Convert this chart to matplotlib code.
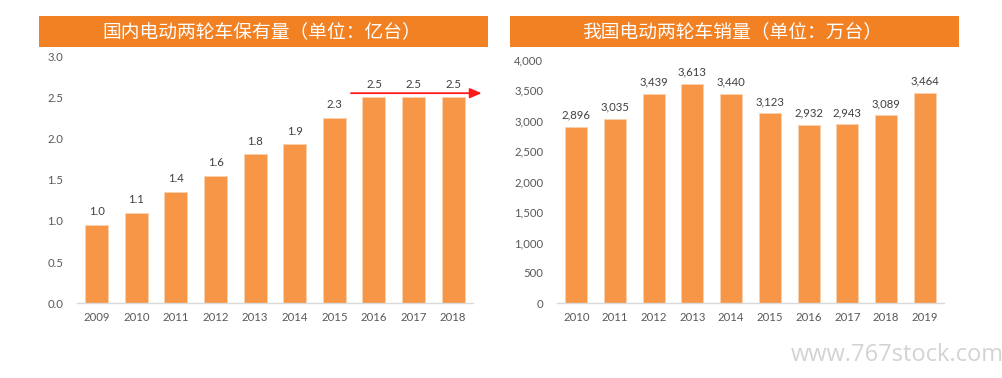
import matplotlib
matplotlib.use("Agg")
import matplotlib.pyplot as plt
from matplotlib.patches import Rectangle

plt.rcParams['font.family'] = ['Lato', 'Noto Sans CJK SC', 'DejaVu Sans']

# ---- data ----
stock_years = ["2009", "2010", "2011", "2012", "2013", "2014", "2015", "2016", "2017", "2018"]
stock_values = [0.95, 1.10, 1.35, 1.55, 1.81, 1.93, 2.25, 2.50, 2.50, 2.50]
stock_labels = ["1.0", "1.1", "1.4", "1.6", "1.8", "1.9", "2.3", "2.5", "2.5", "2.5"]
stock_title = "国内电动两轮车保有量（单位：亿台）"

sales_years = ["2010", "2011", "2012", "2013", "2014", "2015", "2016", "2017", "2018", "2019"]
sales_values = [2896, 3035, 3439, 3613, 3440, 3123, 2932, 2943, 3089, 3464]
sales_title = "我国电动两轮车销量（单位：万台）"

BAR = "#F79646"
BANNER = "#F28124"
TICK = "#595959"
LABEL = "#404040"
AXIS = "#D9D9D9"

fig = plt.figure(figsize=(10.02, 3.78), dpi=100)
fig.patch.set_facecolor("white")

def style(ax):
    for s in ["top", "right", "left"]:
        ax.spines[s].set_visible(False)
    ax.spines["bottom"].set_color(AXIS)
    ax.spines["bottom"].set_linewidth(1.0)
    ax.tick_params(axis="both", length=0, labelsize=8.2, colors=TICK)
    ax.tick_params(axis="x", pad=6)
    ax.tick_params(axis="y", pad=10)

# ---- left chart ----
ax1 = fig.add_axes([0.0768, 0.1976, 0.3952, 0.654])
x1 = range(len(stock_years))
ax1.bar(x1, stock_values, width=0.58, color=BAR, edgecolor="#FAD2AE", linewidth=0.6)
ax1.set_xlim(-0.5, len(stock_years) - 0.5)
ax1.set_ylim(0, 3.0)
ax1.set_yticks([0, 0.5, 1.0, 1.5, 2.0, 2.5, 3.0])
ax1.set_yticklabels(["0.0", "0.5", "1.0", "1.5", "2.0", "2.5", "3.0"])
ax1.set_xticks(list(x1))
ax1.set_xticklabels(stock_years)
style(ax1)
for xi, v, lab in zip(x1, stock_values, stock_labels):
    ax1.annotate(lab, (xi, v), xytext=(0, 5.5), textcoords="offset points",
                 ha="center", va="bottom", fontsize=8.2, color=LABEL)
ax1.annotate("", xy=(9.72, 2.55), xytext=(6.42, 2.55),
             arrowprops=dict(arrowstyle="-|>,head_length=0.7,head_width=0.3",
                             color="#FF1A1A", lw=1.3, shrinkA=0, shrinkB=0),
             annotation_clip=False)

# ---- right chart ----
ax2 = fig.add_axes([0.5559, 0.1976, 0.3862, 0.6437])
x2 = range(len(sales_years))
ax2.bar(x2, sales_values, width=0.57, color=BAR, edgecolor="#FAD2AE", linewidth=0.6)
ax2.set_xlim(-0.5, len(sales_years) - 0.5)
ax2.set_ylim(0, 4000)
ax2.set_yticks(range(0, 4001, 500))
ax2.set_yticklabels([f"{t:,}" for t in range(0, 4001, 500)])
ax2.set_xticks(list(x2))
ax2.set_xticklabels(sales_years)
style(ax2)
for xi, v in zip(x2, sales_values):
    ax2.annotate(f"{v:,}", (xi, v), xytext=(0, 4.5), textcoords="offset points",
                 ha="center", va="bottom", fontsize=8.2, color=LABEL)

# ---- banners ----
for left, title in [(0.0389, stock_title), (0.509, sales_title)]:
    fig.patches.append(Rectangle((left, 0.8757), 0.448, 0.082, transform=fig.transFigure,
                                 facecolor=BANNER, edgecolor="none", zorder=0))
    fig.text(left + 0.224 - 0.002, 0.9167, title, ha="center", va="center",
             fontsize=13.5, color="white", family=["Noto Sans CJK SC", "DejaVu Sans"])

# watermark
fig.text(1.002, 0.061, "www.767stock.com", ha="right", va="center",
         fontsize=17, color="#D3D3D3", family=["Open Sans", "DejaVu Sans"])

fig.savefig("out.png", dpi=100)
